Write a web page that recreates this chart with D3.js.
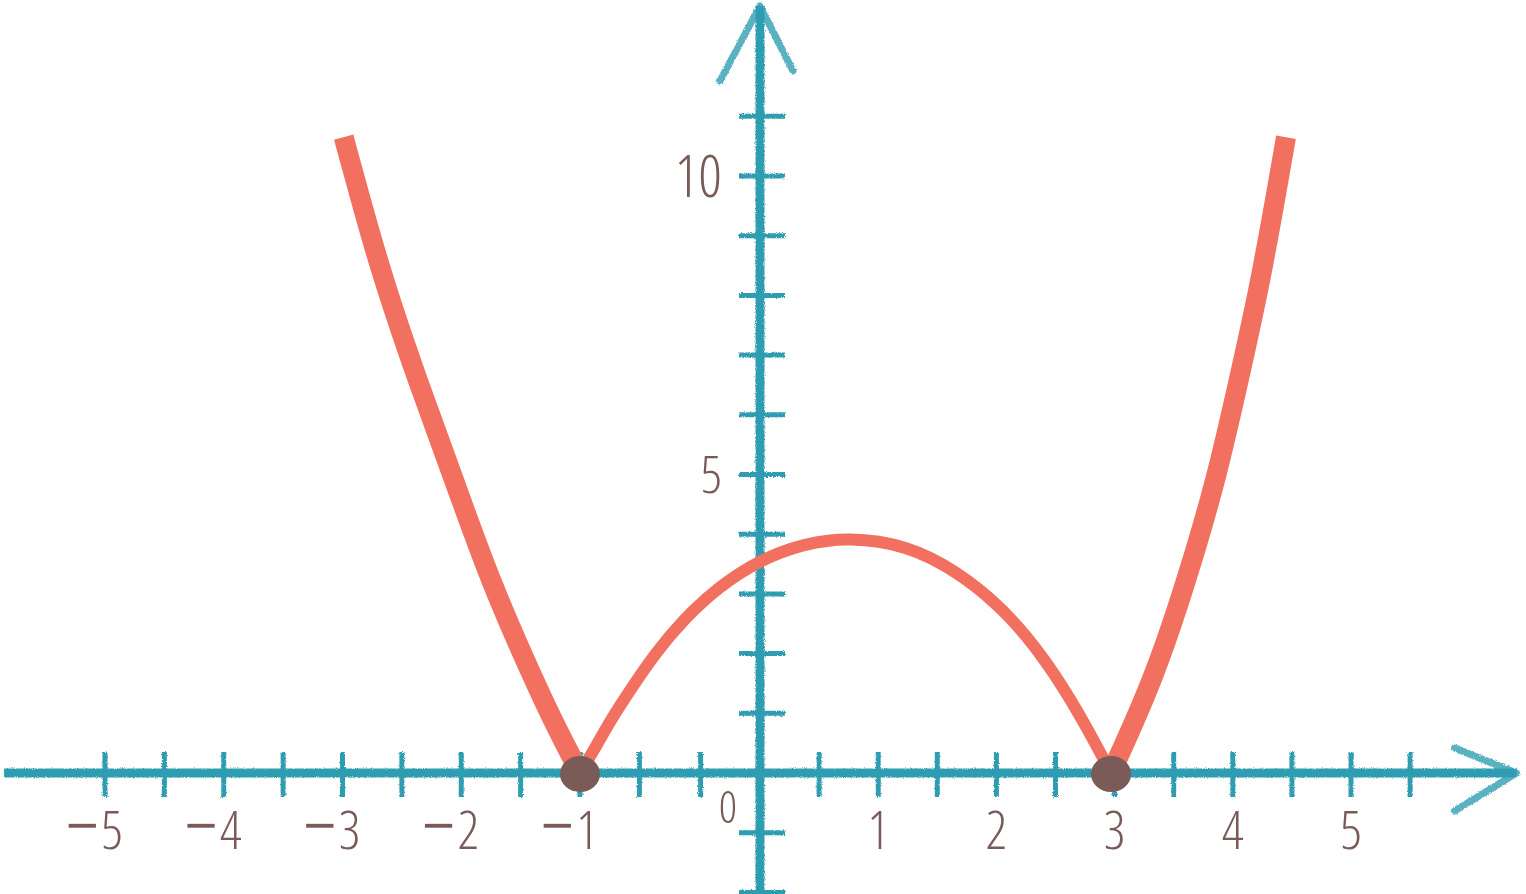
<!DOCTYPE html>
<html lang="en">
<head>
<meta charset="UTF-8">
<title>|x² − 2x − 3|</title>
<script src="https://cdn.jsdelivr.net/npm/d3@7"></script>
<style>
  body { margin: 0; background: #fff; }
  .lbl { font-family: 'Open Sans', Roboto, sans-serif; font-weight: 300; font-stretch: 82%; fill: #7a5a58; }
  .lbl .minus { font-stretch: 100%; font-weight: 400; }
</style>
</head>
<body>
<div id="chart"></div>
<script>
// values
const xTicks = [-5, -4.5, -4, -3.5, -3, -2.5, -2, -1.5, -1, -0.67, -0.33, 0,
                0.5, 1, 1.5, 2, 2.5, 3, 3.5, 4, 4.5, 5, 5.5];
const xLabels = [-5, -4, -3, -2, -1, 1, 2, 3, 4, 5];
const yTicks = [-2, -1, 1, 2, 3, 4, 5, 6, 7, 8, 9, 10, 11];
const yLabels = [5, 10];
const roots = [-1, 2.97];

const leftBranch = [[-2.99, 10.65], [-2.8, 9.26], [-2.64, 8.17], [-2.37, 6.58], [-2.06, 4.91],
                    [-1.76, 3.23], [-1.39, 1.56], [-1.19, 0.72], [-1, 0]];
const arch = [[-1, 0], [-0.93, 0.34], [-0.83, 0.89], [-0.71, 1.44], [-0.58, 2.01], [-0.43, 2.56],
              [-0.23, 3.12], [0, 3.57], [0.36, 3.84], [0.75, 3.95], [1.24, 3.82], [1.67, 3.38],
              [2.09, 2.7], [2.43, 1.86], [2.71, 0.97], [2.97, 0]];
const rightBranch = [[2.97, 0], [3.33, 1.56], [3.61, 3.23], [3.86, 4.91], [4.05, 6.58],
                     [4.24, 8.26], [4.45, 10.65]];

const width = 1526, height = 894;
const axisColor = '#2f9db1', curveColor = '#f2705f', dotColor = '#7b5b58';

const svg = d3.select('#chart').append('svg')
  .attr('width', width).attr('height', height);

// crayon-ish rough edge
const defs = svg.append('defs');
const f = defs.append('filter').attr('id', 'crayon')
  .attr('x', '-5%').attr('y', '-5%').attr('width', '110%').attr('height', '110%');
f.append('feTurbulence').attr('type', 'fractalNoise').attr('baseFrequency', 0.9)
  .attr('numOctaves', 2).attr('result', 'noise');
f.append('feDisplacementMap').attr('in', 'SourceGraphic').attr('in2', 'noise')
  .attr('scale', 3).attr('xChannelSelector', 'R').attr('yChannelSelector', 'G');

// the hand-drawn ruler is uneven left of zero, hence the piecewise scale
const x = d3.scaleLinear().domain([-5, -1, 0, 5]).range([105, 580, 760, 1351]);
const y = d3.scaleLinear().domain([0, 10]).range([773, 176]);

const axes = svg.append('g').attr('filter', 'url(#crayon)')
  .attr('stroke', axisColor).attr('fill', 'none');

// x axis line + arrow
const xEnd = x(6.4);
axes.append('line').attr('x1', x(-5.85)).attr('x2', xEnd)
  .attr('y1', y(0)).attr('y2', y(0)).attr('stroke-width', 9);
axes.append('path')
  .attr('d', `M${xEnd - 62},${y(0) - 25} L${xEnd},${y(0)} L${xEnd - 62},${y(0) + 38}`)
  .attr('stroke-width', 7).attr('stroke-linecap', 'round').attr('stroke-linejoin', 'round')
  .attr('opacity', 0.8);

axes.selectAll('.xt').data(xTicks).enter().append('line')
  .attr('x1', d => x(d)).attr('x2', d => x(d))
  .attr('y1', y(0) - 21).attr('y2', y(0) + 24)
  .attr('stroke-width', 5);

// y axis line + arrow
const yTop = y(12.85);
axes.append('line').attr('x1', x(0)).attr('x2', x(0))
  .attr('y1', y(-2.2)).attr('y2', yTop).attr('stroke-width', 9);
axes.append('path')
  .attr('d', `M${x(0) - 40},${yTop + 75} L${x(0)},${yTop} L${x(0) + 33},${yTop + 65}`)
  .attr('stroke-width', 7).attr('stroke-linecap', 'round').attr('stroke-linejoin', 'round')
  .attr('opacity', 0.8);

axes.selectAll('.yt').data(yTicks).enter().append('line')
  .attr('x1', x(0) - 21).attr('x2', x(0) + 25)
  .attr('y1', d => y(d)).attr('y2', d => y(d))
  .attr('stroke-width', 5);

// curve
const line = d3.line().x(d => x(d[0])).y(d => y(d[1])).curve(d3.curveBasis);
const curves = svg.append('g').attr('fill', 'none').attr('stroke', curveColor);
curves.append('path').attr('d', line(leftBranch)).attr('stroke-width', 20);
curves.append('path').attr('d', line(rightBranch)).attr('stroke-width', 20);
curves.append('path').attr('d', line(arch)).attr('stroke-width', 12);

// root dots
svg.append('g').selectAll('ellipse').data(roots).enter().append('ellipse')
  .attr('cx', d => x(d)).attr('cy', y(0) + 1)
  .attr('rx', 20).attr('ry', 18).attr('fill', dotColor);

// tick labels
const labels = svg.append('g').attr('class', 'lbl');
xLabels.forEach(v => {
  const px = x(v) + (v < 0 ? 7 : 0);
  labels.append('text').attr('x', px).attr('y', 849)
    .attr('text-anchor', 'middle').style('font-size', '53px')
    .text(Math.abs(v));
  if (v < 0) {
    labels.append('text').attr('class', 'minus').attr('x', x(v) - 6).attr('y', 846)
      .attr('text-anchor', 'end').style('font-size', '58px')
      .text('\u2212');
  }
});
labels.append('text').attr('x', x(0) - 32).attr('y', 823)
  .attr('text-anchor', 'middle').style('font-size', '45px').text('0');

labels.selectAll('.yl').data(yLabels).enter().append('text')
  .attr('x', x(0) - 38).attr('y', d => y(d))
  .attr('dy', '0.36em').attr('text-anchor', 'end')
  .style('font-size', d => d === 10 ? '58px' : '52px')
  .text(d => d);
</script>
</body>
</html>
